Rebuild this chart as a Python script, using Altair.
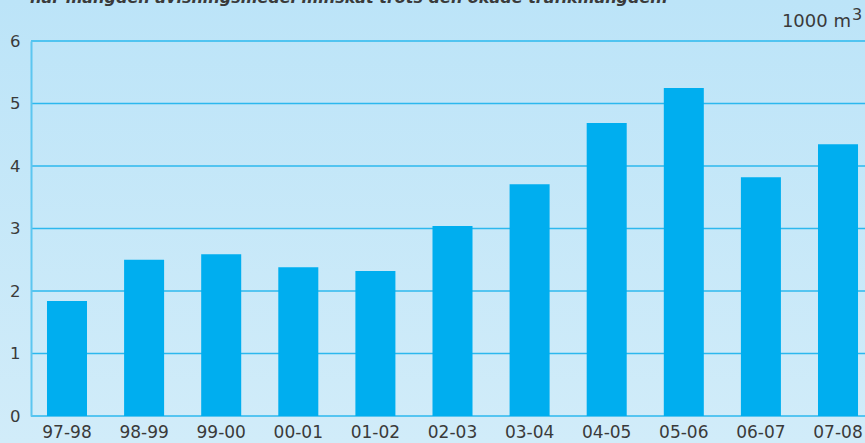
import altair as alt
import pandas as pd

seasons = ["97-98", "98-99", "99-00", "00-01", "01-02", "02-03",
           "03-04", "04-05", "05-06", "06-07", "07-08"]
volumes = [1.84, 2.50, 2.59, 2.38, 2.32, 3.04, 3.71, 4.69, 5.25, 3.82, 4.35]
y_ticks = [0, 1, 2, 3, 4, 5, 6]
caption = "har mängden avisningsmedel minskat trots den ökade trafikmängden."
unit_text = "1000 m"
unit_sup = "3"

df = pd.DataFrame({"season": seasons, "volume": volumes})
grid_df = pd.DataFrame({"v": y_ticks})
one = pd.DataFrame({"k": [0]})

FONT = "DejaVu Sans"
TXT = "#3a3a3a"
GRID = "#2cb8ee"

x_scale = alt.Scale(domain=seasons, paddingInner=0.481, paddingOuter=0.149, align=0.696)
y_scale = alt.Scale(domain=[0, 6], nice=False)
y_axis = alt.Axis(title=None, values=y_ticks, grid=False, ticks=False,
                  domain=True, domainColor="#5cc6f0", domainWidth=2,
                  labelPadding=11, labelFontSize=16.5, labelFont=FONT,
                  labelColor=TXT, zindex=1)

bg = alt.Chart(one).mark_rect(
    fill=alt.Gradient(
        gradient="linear",
        stops=[alt.GradientStop(color="#bce4f8", offset=0),
               alt.GradientStop(color="#d1ecf9", offset=1)],
        x1=0, x2=0, y1=0, y2=1,
    )
).encode(
    x=alt.value(-31), x2=alt.value(834), y=alt.value(-41), y2=alt.value(402)
)

grid = alt.Chart(grid_df).mark_rule(color=GRID, strokeWidth=1.6).encode(
    y=alt.Y("v:Q", scale=y_scale, axis=y_axis),
    x=alt.value(0), x2=alt.value(834),
)

bars = alt.Chart(df).mark_bar(color="#00aeef").encode(
    x=alt.X("season:N", scale=x_scale, sort=seasons,
            axis=alt.Axis(title=None, labelAngle=0, ticks=False, domain=False,
                          labelPadding=8, labelFontSize=17, labelFont=FONT,
                          labelColor=TXT, zindex=1)),
    y=alt.Y("volume:Q", scale=y_scale, axis=y_axis),
)

cap = alt.Chart(one).mark_text(
    text=caption, font=FONT, fontSize=16, fontStyle="italic", fontWeight="bold",
    color=TXT, align="left", baseline="alphabetic"
).encode(x=alt.value(-1), y=alt.value(-38))

unit = alt.Chart(one).mark_text(
    text=unit_text, font=FONT, fontSize=18, color=TXT, align="right",
    baseline="alphabetic"
).encode(x=alt.value(820), y=alt.value(-14))

sup = alt.Chart(one).mark_text(
    text=unit_sup, font=FONT, fontSize=16, color=TXT, align="left",
    baseline="alphabetic"
).encode(x=alt.value(821), y=alt.value(-21))

chart = alt.layer(bg, grid, bars, cap, unit, sup).properties(
    width=834, height=375,
    autosize=alt.AutoSizeParams(type="none"),
    padding={"left": 31, "top": 41, "right": 0, "bottom": 27},
    background="#c6e8f9",
).configure_view(stroke=None)

chart.save("out.html", embed_options={"renderer": "svg", "actions": False})
